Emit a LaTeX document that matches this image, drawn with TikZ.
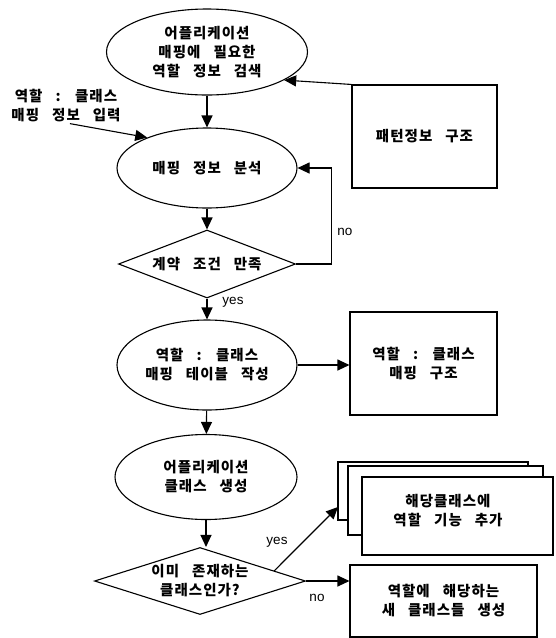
\documentclass[tikz,border=0pt]{standalone}
\usepackage{fontspec}
\setmainfont{Liberation Sans}
\newfontfamily\kr[LetterSpace=7,WordSpace=3]{Noto Sans CJK KR}
\usetikzlibrary{shapes.geometric,arrows.meta,calc}
\begin{document}
\begin{tikzpicture}[x=1pt,y=-1pt,
  line width=1.1pt,
  every node/.style={inner sep=0pt},
  kt/.style={font=\kr\bfseries\fontsize{14.5}{19}\selectfont, align=center},
  ell/.style={ellipse, draw, kt},
  dia/.style={diamond, draw, kt},
  box/.style={rectangle, draw, kt, fill=white},
  arr/.style={-{Triangle[length=12pt,width=11pt]}},
  lab/.style={font=\fontsize{13.5}{15}\selectfont}
]
\useasboundingbox (0,0) rectangle (555,638);
\fill[white] (0,0) rectangle (555,638);

\node[ell, minimum width=201pt, minimum height=86pt] (e1) at (207,52) {어플리케이션\\매핑에 필요한\\역할 정보 검색};
\node[ell, minimum width=180pt, minimum height=80pt] (e2) at (207,168) {매핑 정보 분석};
\node[dia, minimum width=177pt, minimum height=68pt, aspect=2.6] (d1) at (207,264) {계약 조건 만족};
\node[ell, minimum width=180pt, minimum height=90pt] (e3) at (207,365) {역할 : 클래스\\매핑 테이블 작성};
\node[ell, minimum width=182pt, minimum height=85pt] (e4) at (206,477) {어플리케이션\\클래스 생성};
\node[dia, minimum width=211pt, minimum height=67pt, aspect=3.1] (d2) at (200,581) {이미 존재하는\\클래스인가?};

\node[box, minimum width=145pt, minimum height=103pt] (pat) at (424.5,136.5) {패턴정보 구조};
\node[box, minimum width=147pt, minimum height=103pt] (map) at (423.5,363.5) {역할 : 클래스\\매핑 구조};
\node[box, minimum width=190pt, minimum height=58pt] (back) at (433,491) {};
\node[box, minimum width=195pt, minimum height=69pt] (mid) at (445.5,500.5) {};
\node[box, minimum width=191pt, minimum height=78pt] (front) at (457.5,516) {};
\node[kt] (fronttxt) at (448,511) {해당클래스에\\역할 기능 추가};
\node[box, minimum width=187pt, minimum height=72pt] (new) at (443.5,601) {역할에 해당하는\\새 클래스들 생성};

\node[kt] (inp) at (66,106) {역할 : 클래스\\매핑 정보 입력};

\draw[arr] (e1) -- (e2);
\draw[arr] (e2) -- (d1);
\draw[arr] (d1.east) -- ++(35,0) |- (e2.east);
\draw[arr] (d1) -- (e3);
\draw[arr] (e3.east) -- (e3.east -| map.west);
\draw[arr] (e3) -- (e4);
\draw[arr] (e4.south) -- (e4.south |- d2.north);
\draw[arr] (pat.north west) -- (e1.-20);
\draw[arr, shorten <=4pt] (inp.south) -- (e2.153);
\coordinate (ys) at ($(d2.east)!0.3!(d2.north)$);
\coordinate (ye) at (338,507);
\draw[arr] (ys) -- (ye);
\draw[arr] (d2.east) -- (d2.east -| new.west);

\node[lab] (no1) at (345,232) {no};
\node[lab] (yes1) at (233,302) {yes};
\node[lab] (yes2) at (277,542) {yes};
\node[lab] (no2) at (317,598) {no};
\end{tikzpicture}
\end{document}
